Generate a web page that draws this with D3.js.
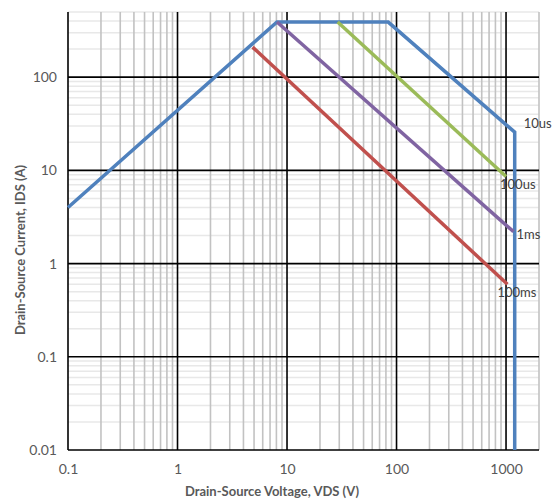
<!DOCTYPE html>
<html><head><meta charset="utf-8">
<script src="https://cdn.jsdelivr.net/npm/d3@7"></script>
<style>body{margin:0;background:#fff}svg{display:block}text{font-family:Lato,"Open Sans",sans-serif}</style>
</head><body><svg id="c" width="557" height="503"></svg>
<script>
const xTicks = [0.1, 1, 10, 100, 1000];
const yTicks = [0.01, 0.1, 1, 10, 100];
const xTickLabels = ["0.1", "1", "10", "100", "1000"];
const yTickLabels = ["0.01", "0.1", "1", "10", "100"];
const seriesNames = ["10us", "100us", "1ms", "100ms"];
const seriesColors = ["#4F81BD", "#9BBB59", "#8064A2", "#C0504D"];
const vds10us = [0.1, 8.1, 84, 1200, 1200];
const ids10us = [4.0, 390, 390, 25.7, 0.01];
const vds100us = [29, 1000];
const ids100us = [390, 8.6];
const vds1ms = [8.1, 1170];
const ids1ms = [390, 2.2];
const vds100ms = [4.85, 1030];
const ids100ms = [210, 0.6];

const W = 557, H = 503;
const m = {l: 68, r: 557-539, t: 12, b: 503-450};
const svg = d3.select("#c");
const x = d3.scaleLog().domain([0.1, 2000]).range([m.l, W-m.r]);
const y = d3.scaleLog().domain([0.01, 500]).range([H-m.b, m.t]);

const minorX = [], minorY = [];
for (let d = 0.1; d < 2000; d *= 10) for (let k = 2; k <= 9; k++) { const v = d*k; if (v <= 2000*1.0001) minorX.push(v); }
for (let d = 0.01; d < 500; d *= 10) for (let k = 2; k <= 9; k++) { const v = d*k; if (v <= 500*1.0001) minorY.push(v); }

const g = svg.append("g");
g.selectAll(".hy").data(minorY).join("line")
  .attr("x1", m.l).attr("x2", W-m.r).attr("y1", d=>y(d)).attr("y2", d=>y(d))
  .attr("stroke", "#e8e8e8").attr("stroke-width", 1.5);
g.selectAll(".vx").data(minorX).join("line")
  .attr("y1", m.t).attr("y2", H-m.b).attr("x1", d=>x(d)).attr("x2", d=>x(d))
  .attr("stroke", "#c2c2c2").attr("stroke-width", 1.6);
g.selectAll(".my").data(yTicks).join("line")
  .attr("x1", m.l).attr("x2", W-m.r).attr("y1", d=>y(d)).attr("y2", d=>y(d))
  .attr("stroke", "#000").attr("stroke-width", 1.6);
g.selectAll(".mx").data(xTicks).join("line")
  .attr("y1", m.t).attr("y2", H-m.b).attr("x1", d=>x(d)).attr("x2", d=>x(d))
  .attr("stroke", "#000").attr("stroke-width", 1.6);

const xAxis = d3.axisBottom(x).tickValues(xTicks).tickFormat((d,i)=>xTickLabels[i]).tickSize(0).tickPadding(14);
const yAxis = d3.axisLeft(y).tickValues(yTicks).tickFormat((d,i)=>yTickLabels[i]).tickSize(0).tickPadding(11);
const ax = svg.append("g").attr("transform", `translate(0,${H-m.b})`).call(xAxis);
const ay = svg.append("g").attr("transform", `translate(${m.l},0)`).call(yAxis);
[ax, ay].forEach(a => {
  a.select(".domain").remove();
  a.selectAll("text").attr("font-size", 14).attr("fill", "#595959").attr("font-family", "Lato");
});

const line = d3.line().x(d=>x(d[0])).y(d=>y(d[1]));
const series = [
  [vds10us, ids10us], [vds100ms, ids100ms], [vds1ms, ids1ms], [vds100us, ids100us]
];
const cols = [seriesColors[0], seriesColors[3], seriesColors[2], seriesColors[1]];
series.forEach((s, i) => {
  svg.append("path").datum(s[0].map((v,j)=>[v, s[1][j]]))
    .attr("d", line).attr("fill", "none").attr("stroke", cols[i])
    .attr("stroke-width", 3.5).attr("stroke-linejoin", "miter");
});

const lab = [
  {t: seriesNames[0], v: vds10us[3], i: ids10us[3], dx: 9, dy: -7},
  {t: seriesNames[1], v: vds100us[1], i: ids100us[1], dx: -6, dy: 9},
  {t: seriesNames[2], v: vds1ms[1], i: ids1ms[1], dx: 3, dy: 4},
  {t: seriesNames[3], v: vds100ms[1], i: ids100ms[1], dx: -10, dy: 9},
];
svg.selectAll(".sl").data(lab).join("text")
  .attr("x", d=>x(d.v)+d.dx).attr("y", d=>y(d.i)+d.dy)
  .attr("dominant-baseline", "middle")
  .attr("font-size", 13).attr("fill", "#404040").text(d=>d.t);

svg.append("text").attr("x", 272).attr("y", 496).attr("text-anchor", "middle")
  .attr("font-size", 13).attr("font-weight", "bold").attr("fill", "#595959")
  .text("Drain-Source Voltage, VDS (V)");
svg.append("text").attr("transform", "translate(25,250) rotate(-90)").attr("text-anchor", "middle")
  .attr("font-size", 13).attr("font-weight", "bold").attr("fill", "#595959")
  .text("Drain-Source Current, IDS (A)");
</script></body></html>
